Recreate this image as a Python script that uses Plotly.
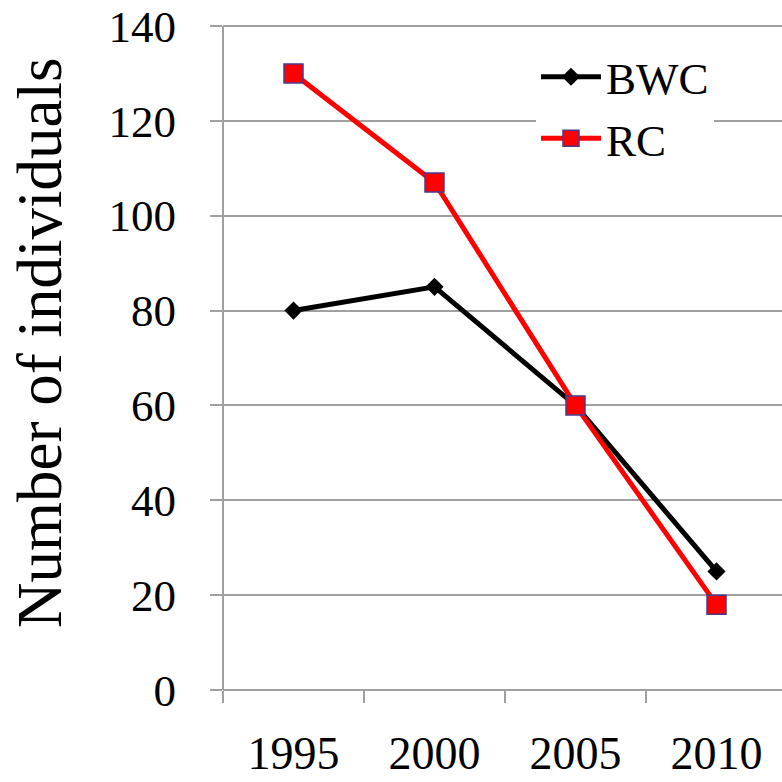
import plotly.graph_objects as go

years = ["1995", "2000", "2005", "2010"]
bwc = [80, 85, 60, 25]
rc = [130, 107, 60, 18]
y_ticks = [0, 20, 40, 60, 80, 100, 120, 140]

W, H = 782, 782
Y0_PX, Y140_PX = 690, 26
L, R, T, B = 223, 0, 23, W - Y0_PX
plot_w = W - L - R
plot_h = H - T - B
cat_w = 141.0
x_max = plot_w / cat_w - 0.5
px_per_unit = (Y0_PX - Y140_PX) / 140.0
y_max = 140 + (Y140_PX - T) / px_per_unit

fig = go.Figure()
fig.add_trace(go.Scatter(
    x=years, y=bwc, name="BWC", mode="lines+markers",
    line=dict(color="#000000", width=5),
    marker=dict(symbol="diamond", size=14, color="#000000"),
))
fig.add_trace(go.Scatter(
    x=years, y=rc, name="RC", mode="lines+markers",
    line=dict(color="#FF0000", width=5),
    marker=dict(symbol="square", size=19, color="#FF0000",
                line=dict(color="#4B3A8C", width=1.5)),
))

font_family = "Liberation Serif"
fig.update_layout(
    width=W, height=H,
    margin=dict(l=L, r=R, t=T, b=B, autoexpand=False),
    paper_bgcolor="white", plot_bgcolor="white",
    font=dict(family=font_family, color="#000000"),
    showlegend=True,
    legend=dict(
        x=(536 - L) / plot_w, y=(Y0_PX - 41) / plot_h,
        xanchor="left", yanchor="top",
        bgcolor="white", borderwidth=0,
        font=dict(size=45, family=font_family, color="#000000"),
        tracegroupgap=0, itemwidth=60,
    ),
    xaxis=dict(
        type="category", range=[-0.5, x_max],
        tickson="boundaries", ticks="outside", ticklen=12, tickwidth=2,
        tickcolor="#a0a0a0", showgrid=False, showline=False, zeroline=False,
        tickfont=dict(size=46, family=font_family, color="#000000"),
        ticklabelstandoff=32, ticklabeloverflow="allow",
    ),
    yaxis=dict(
        range=[0, y_max], tickvals=y_ticks, ticks="outside", ticklen=12,
        tickwidth=2, tickcolor="#a0a0a0",
        showgrid=True, gridcolor="#a0a0a0", gridwidth=2,
        showline=False,
        zeroline=True, zerolinecolor="#a0a0a0", zerolinewidth=2,
        tickfont=dict(size=45, family=font_family, color="#000000"),
        ticklabelstandoff=25, ticklabeloverflow="allow",
    ),
    shapes=[dict(
        type="line", xref="paper", yref="y", x0=0, x1=0, y0=0, y1=140,
        line=dict(color="#a0a0a0", width=2),
    )],
    annotations=[dict(
        text="Number of individuals", textangle=-90, showarrow=False,
        xref="paper", yref="paper",
        x=(40 - L) / plot_w, y=(Y0_PX - 343) / plot_h,
        xanchor="center", yanchor="middle",
        font=dict(size=63, family=font_family, color="#000000"),
    )],
)

fig.write_html("out.html")
